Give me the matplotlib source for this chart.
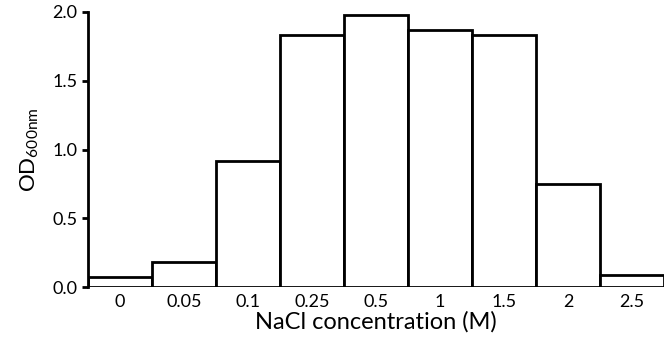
import matplotlib.pyplot as plt
import numpy as np

plt.rcParams['font.family'] = ['Lato', 'DejaVu Sans']
plt.rcParams['mathtext.fontset'] = 'custom'
plt.rcParams['mathtext.rm'] = 'Lato'

nacl = ['0', '0.05', '0.1', '0.25', '0.5', '1', '1.5', '2', '2.5']
od600 = [0.07, 0.18, 0.92, 1.83, 1.98, 1.87, 1.83, 0.75, 0.085]

fig = plt.figure(figsize=(6.72, 3.43), dpi=100)
ax = fig.add_axes([88 / 672, 56 / 343, 576 / 672, 275 / 343])

x = np.arange(len(nacl))
ax.bar(x, od600, width=1.0, color='white', edgecolor='black', linewidth=2)

ax.set_xlim(-0.5, len(nacl) - 0.5)
ax.set_ylim(0, 2.0)
ax.set_yticks([0.0, 0.5, 1.0, 1.5, 2.0])
ax.set_yticklabels(['0.0', '0.5', '1.0', '1.5', '2.0'])
ax.set_xticks(x)
ax.set_xticklabels(nacl)

for side in ['top', 'right', 'bottom']:
    ax.spines[side].set_visible(False)
ax.spines['left'].set_linewidth(2)
ax.tick_params(axis='y', length=4.5, width=2, labelsize=13, pad=3)
ax.tick_params(axis='x', length=0, labelsize=13, pad=5)

ax.set_xlabel('NaCl concentration (M)', fontsize=17, labelpad=1)
ax.set_ylabel('OD$_{\\mathregular{600nm}}$', fontsize=16, labelpad=8)

fig.savefig('out.png', dpi=100)
